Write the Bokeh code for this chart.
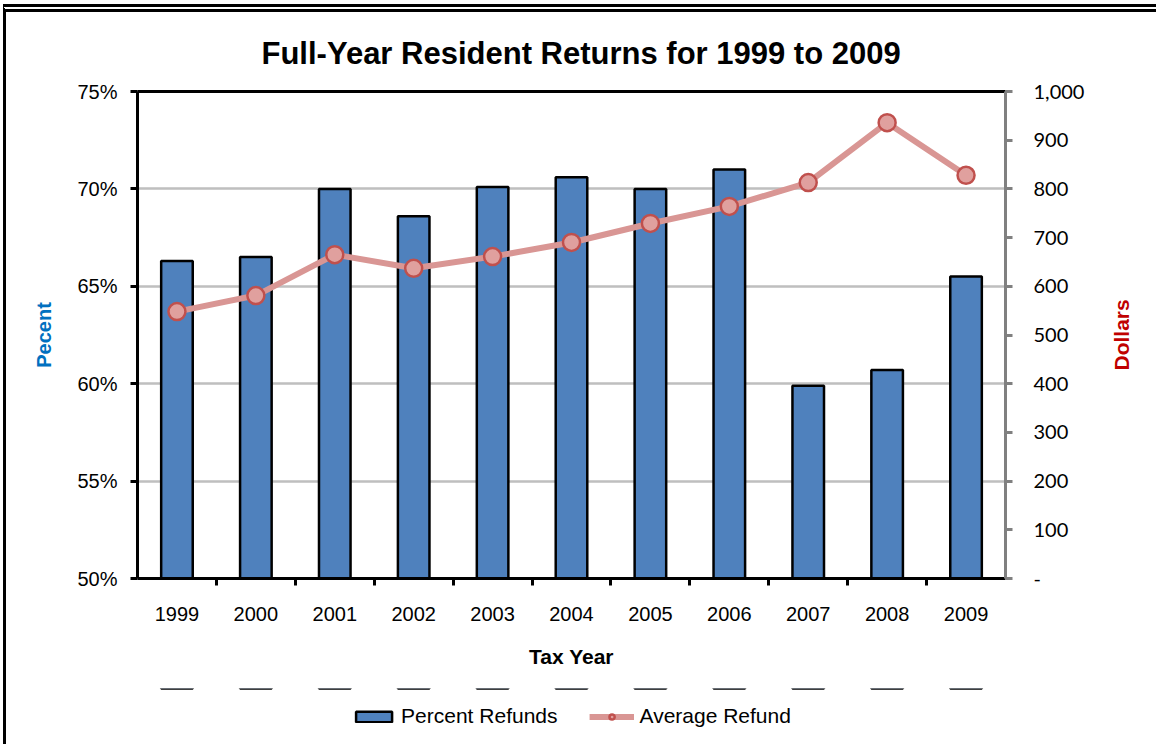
import math
from bokeh.plotting import figure
from bokeh.layouts import column
from bokeh.models import (Range1d, LinearAxis, CategoricalAxis, FactorRange, FixedTicker,
                          PrintfTickFormatter, NumeralTickFormatter, Legend, LegendItem,
                          ColumnDataSource)
from bokeh.embed import file_html
from bokeh.resources import INLINE

years = ["1999", "2000", "2001", "2002", "2003", "2004", "2005", "2006", "2007", "2008", "2009"]
percent_refunds = [66.3, 66.5, 70.0, 68.6, 70.1, 70.6, 70.0, 71.0, 59.9, 60.7, 65.5]
average_refund = [548, 581, 665, 637, 661, 690, 729, 764, 813, 936, 828]
pct_ticks = [50, 55, 60, 65, 70, 75]
dollar_ticks = [0, 100, 200, 300, 400, 500, 600, 700, 800, 900, 1000]

OX, OY = 6, 12          # canvas origin on the screen
FL, FR, FT, FB = 137, 1005, 91, 578   # frame edges on the screen
W = 1156 - OX

src = ColumnDataSource(dict(year=years, pct=percent_refunds, avg=average_refund))

fig = figure(x_range=FactorRange(*years), y_range=Range1d(50, 75),
             frame_width=FR - FL, frame_height=FB - FT,
             x_axis_location=None, y_axis_location="left",
             min_border_left=FL - OX, min_border_right=1156 - FR,
             min_border_top=FT - OY, min_border_bottom=110,
             output_backend="svg", toolbar_location=None,
             title="Full-Year Resident Returns for 1999 to 2009")
fig.outline_line_color = None
fig.background_fill_color = "white"
fig.border_fill_color = "white"

fig.title.text_font = "Liberation Sans"
fig.title.text_font_size = "31px"
fig.title.text_font_style = "bold"
fig.title.align = "left"
fig.title.offset = 124
fig.title.standoff = 41
fig.title.text_color = "black"

# left axis
ya = fig.yaxis[0]
ya.ticker = FixedTicker(ticks=pct_ticks)
ya.formatter = PrintfTickFormatter(format="%d%%")
ya.axis_line_color = "black"
ya.axis_line_width = 3
ya.major_tick_line_color = "black"
ya.major_tick_line_width = 3
ya.major_tick_out = 7
ya.major_tick_in = 0
ya.minor_tick_line_color = None
ya.major_label_text_font = "Liberation Sans"
ya.major_label_text_font_size = "20px"
ya.major_label_text_color = "black"
ya.major_label_standoff = 13
ya.axis_label = "Pecent"
ya.axis_label_text_font = "Liberation Sans"
ya.axis_label_text_font_size = "20px"
ya.axis_label_text_font_style = "bold"
ya.axis_label_text_color = "#0070C0"
ya.axis_label_standoff = 19

fig.xgrid.visible = False
fig.ygrid.ticker = FixedTicker(ticks=[55, 60, 65, 70])
fig.ygrid.grid_line_color = "#BFBFBF"
fig.ygrid.grid_line_width = 2.5

# right axis
fig.extra_y_ranges = {"d": Range1d(0, 1000)}
ra = LinearAxis(y_range_name="d", ticker=FixedTicker(ticks=dollar_ticks),
                formatter=NumeralTickFormatter(format="0,0"),
                major_label_overrides={0: "-"})
ra.axis_line_color = "#808080"
ra.axis_line_width = 3
ra.major_tick_line_color = "#808080"
ra.major_tick_line_width = 3
ra.major_tick_out = 7
ra.major_tick_in = 0
ra.minor_tick_line_color = None
ra.major_label_text_font = "Lato"
ra.major_label_text_font_size = "20px"
ra.major_label_text_color = "black"
ra.major_label_standoff = 21
fig.add_layout(ra, "right")

# right-hand title "Dollars", reading bottom to top, centred on the frame
LBL_LEN = 71   # on-screen length of the rotated title, px
lbl_pos = 75 - ((FT + FB) / 2 + LBL_LEN / 2 - FT) / ((FB - FT) / 25.0)
rt = LinearAxis(ticker=FixedTicker(ticks=[lbl_pos]),
                major_label_overrides={lbl_pos: "Dollars"})
rt.axis_line_color = None
rt.major_tick_line_color = None
rt.minor_tick_line_color = None
rt.major_tick_out = 0
rt.major_tick_in = 0
rt.major_label_orientation = math.pi / 2
rt.major_label_text_font = "Liberation Sans"
rt.major_label_text_font_size = "21px"
rt.major_label_text_font_style = "bold"
rt.major_label_text_color = "#C00000"
rt.major_label_standoff = 34
fig.add_layout(rt, "right")

# top border line
ta = LinearAxis(ticker=FixedTicker(ticks=[]), major_label_text_font_size="0px")
ta.axis_line_color = "black"
ta.axis_line_width = 3
ta.major_tick_line_color = None
ta.minor_tick_line_color = None
fig.add_layout(ta, "above")

# bottom: ticks on the category boundaries (a helper factor range shifted by half a slot)
bounds = ["b%d" % i for i in range(len(years) + 1)]
fig.extra_x_ranges = {"n": FactorRange(*bounds, range_padding=-0.5, range_padding_units="absolute")}
tk = CategoricalAxis(x_range_name="n", major_label_text_font_size="0px")
tk.axis_line_color = "black"
tk.axis_line_width = 3
tk.major_tick_line_color = "black"
tk.major_tick_line_width = 3
tk.major_tick_out = 7
tk.major_tick_in = 0
tk.minor_tick_line_color = None
tk.major_label_standoff = 0
fig.add_layout(tk, "below")

ca = CategoricalAxis()
ca.axis_line_color = None
ca.major_tick_line_color = None
ca.minor_tick_line_color = None
ca.major_label_text_font = "Liberation Sans"
ca.major_label_text_font_size = "20px"
ca.major_label_text_color = "black"
ca.major_label_standoff = 15
ca.axis_label = "Tax Year"
ca.axis_label_text_font = "Liberation Sans"
ca.axis_label_text_font_size = "21px"
ca.axis_label_text_font_style = "bold"
ca.axis_label_text_color = "black"
ca.axis_label_standoff = 21
fig.add_layout(ca, "below")

BAR_STYLE = dict(fill_color="#4F81BD", line_color="black", line_width=2.5)
LINE_STYLE = dict(line_color="#D99694", line_width=6)
DOT_STYLE = dict(size=17, fill_color="#E0A09E", line_color="#C0504D", line_width=2.5)

fig.vbar(x="year", top="pct", bottom=50, width=0.4, source=src, **BAR_STYLE)
fig.line(x="year", y="avg", source=src, y_range_name="d", **LINE_STYLE)
fig.scatter(x="year", y="avg", source=src, y_range_name="d", **DOT_STYLE)

# legend strip below the chart: the same series, drawn outside this strip's visible range,
# so only their legend keys show
lf = figure(width=W, height=56, x_range=FactorRange(*years), y_range=Range1d(0, 1),
            x_axis_location=None, y_axis_location=None, min_border=0,
            output_backend="svg", toolbar_location=None)
lf.outline_line_color = None
lf.background_fill_color = "white"
lf.border_fill_color = "white"
for g in lf.grid:
    g.visible = False
kb = lf.vbar(x="year", top="pct", bottom=50, width=0.4, source=src, **BAR_STYLE)
kl = lf.line(x="year", y="avg", source=src, **LINE_STYLE)
ks = lf.scatter(x="year", y="avg", source=src, **DOT_STYLE)
leg = Legend(items=[LegendItem(label="Percent Refunds", renderers=[kb]),
                    LegendItem(label="Average Refund", renderers=[kl, ks])],
             orientation="horizontal", location="center",
             glyph_width=45, glyph_height=13, label_standoff=5, spacing=32,
             label_text_font="Liberation Sans", label_text_font_size="21px",
             label_text_color="black", border_line_color=None,
             background_fill_alpha=0, padding=0, margin=0)
lf.add_layout(leg)

p = column(fig, lf, spacing=0)
p.styles = {"border-top": "8px double black", "border-left": "3px solid black",
            "margin-top": "4px", "margin-left": "3px"}

open("out.html", "w").write(file_html(p, INLINE))
